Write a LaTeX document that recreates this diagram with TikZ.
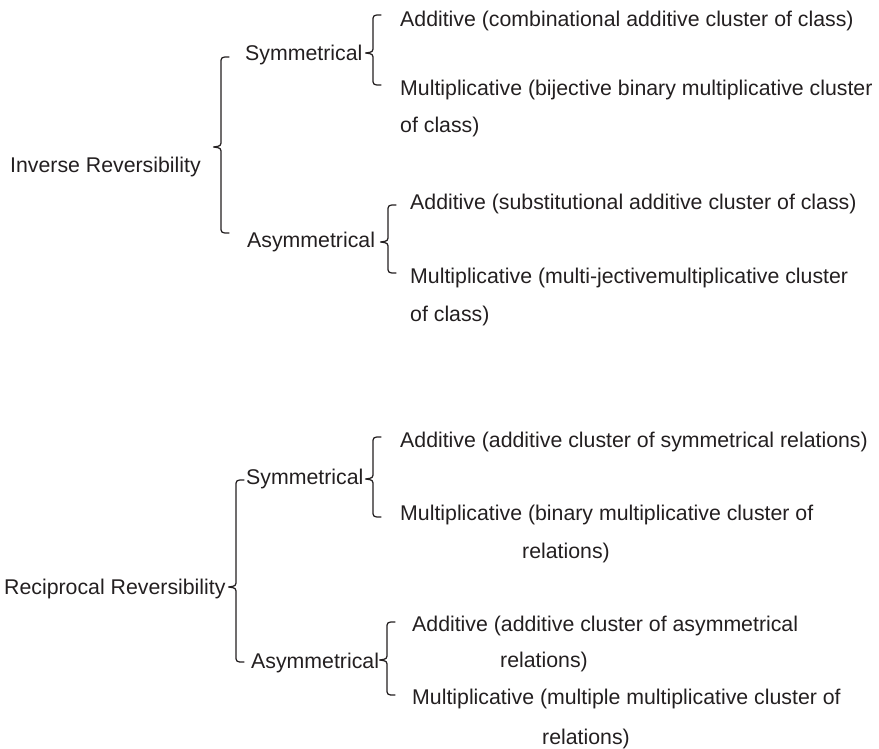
\documentclass[tikz,border=0pt]{standalone}
\usepackage{fontspec}
\setmainfont{Liberation Sans}
\definecolor{ink}{HTML}{231F20}
% curly brace: vertical stem at x=#1, from y=#2 (top) to y=#4 (bottom), tip at y=#3
\newcommand\curlybrace[4]{%
  \draw[bracestroke]
    ({#1+8},#2) .. controls (#1,#2) .. (#1,{#2+7})
    -- (#1,{#3-7}) .. controls (#1,{#3-1}) .. ({#1-7.5},#3)
    .. controls (#1,{#3+1}) .. (#1,{#3+7})
    -- (#1,{#4-7}) .. controls (#1,#4) .. ({#1+8},#4);}
\begin{document}
\begin{tikzpicture}[x=1pt,y=-1pt,
  lbl/.style={anchor=base west,inner sep=0pt,text=ink,font=\fontsize{21.3}{25}\selectfont},
  bracestroke/.style={draw=ink,line width=1.25pt,line cap=round,line join=round}]
\useasboundingbox (0,0) rectangle (879,749);

% ---- inverse reversibility ----
\node[lbl] (inv)  at (10,172.5)  {Inverse Reversibility};
\node[lbl] (sym1) at (245,60.5)  {Symmetrical};
\node[lbl] (add1) at (400,26.5)  {Additive (combinational additive cluster of class)};
\node[lbl] (mul1) at (400,95.5)  {Multiplicative (bijective binary multiplicative cluster};
\node[lbl] (mul1b) at (400,132.5) {of class)};
\node[lbl] (asy1) at (247,247.5) {Asymmetrical};
\node[lbl] (add2) at (410,209.5) {Additive (substitutional additive cluster of class)};
\node[lbl] (mul2) at (410,283.5) {Multiplicative (multi-jectivemultiplicative cluster};
\node[lbl] (mul2b) at (410,321.5) {of class)};

\curlybrace{221}{57}{147}{233}
\curlybrace{373}{15}{53}{85}
\curlybrace{388}{205}{242}{273}

% ---- reciprocal reversibility ----
\node[lbl] (rec)  at (4,594.5)   {Reciprocal Reversibility};
\node[lbl] (sym2) at (246,484.5) {Symmetrical};
\node[lbl] (add3) at (400,447.5) {Additive (additive cluster of symmetrical relations)};
\node[lbl] (mul3) at (400,520.5) {Multiplicative (binary multiplicative cluster of};
\node[lbl] (mul3b) at (522,558.5) {relations)};
\node[lbl] (asy2) at (251,668.5) {Asymmetrical};
\node[lbl] (add4) at (412,631.5) {Additive (additive cluster of asymmetrical};
\node[lbl] (add4b) at (500,667.5) {relations)};
\node[lbl] (mul4) at (412,704.5) {Multiplicative (multiple multiplicative cluster of};
\node[lbl] (mul4b) at (542,744) {relations)};

\curlybrace{236}{480}{587}{662}
\curlybrace{373}{437}{479}{517}
\curlybrace{387}{622}{660}{695}
\end{tikzpicture}
\end{document}
